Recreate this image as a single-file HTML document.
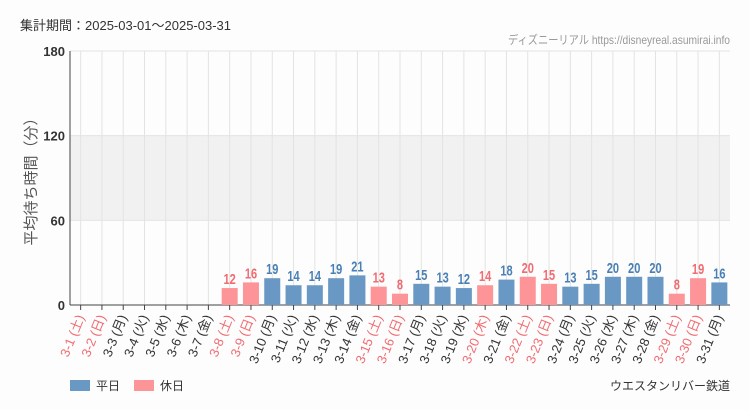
<!DOCTYPE html>
<html><head><meta charset="utf-8"><style>
body{margin:0;background:#fcfdfc;}
svg{display:block;font-family:"Liberation Sans","Noto Sans CJK JP",sans-serif;}
</style></head><body>
<svg id="chart" width="750" height="410">
<text x="20" y="30" font-size="13" fill="#333">集計期間：2025-03-01～2025-03-31</text>
<text x="730" y="44" font-size="12" fill="#999" text-anchor="end" textLength="222" lengthAdjust="spacingAndGlyphs">ディズニーリアル https://disneyreal.asumirai.info</text>
<rect x="70" y="136" width="660" height="84" fill="#f0f1f0"/>
<g id="grid"></g><g id="bars"></g><g id="xlabels"></g>
<text transform="translate(36,178) rotate(-90)" font-size="15" fill="#555" text-anchor="middle">平均待ち時間（分）</text>
<rect x="70" y="380" width="20" height="11" fill="#6a98c4"/>
<text x="96" y="390" font-size="12" fill="#333">平日</text>
<rect x="134" y="380" width="20" height="11" fill="#fd9497"/>
<text x="160" y="390" font-size="12" fill="#333">休日</text>
<text x="730" y="390" font-size="12" fill="#333" text-anchor="end">ウエスタンリバー鉄道</text>
</svg>
<script>
const days=["3-1","3-2","3-3","3-4","3-5","3-6","3-7","3-8","3-9","3-10","3-11","3-12","3-13","3-14","3-15","3-16","3-17","3-18","3-19","3-20","3-21","3-22","3-23","3-24","3-25","3-26","3-27","3-28","3-29","3-30","3-31"];
const weekdays=["土","日","月","火","水","木","金","土","日","月","火","水","木","金","土","日","月","火","水","木","金","土","日","月","火","水","木","金","土","日","月"];
const holidays=[1,1,0,0,0,0,0,1,1,0,0,0,0,0,1,1,0,0,0,1,0,1,1,0,0,0,0,0,1,1,0];
const values=[0,0,0,0,0,0,0,12,16,19,14,14,19,21,13,8,15,13,12,14,18,20,15,13,15,20,20,20,8,19,16];
const yTicks=[0,60,120,180];
const NS="http://www.w3.org/2000/svg";
const L=70,R=730,T=51,B=305,yMax=180;
const bw=(R-L)/days.length;
const xc=i=>L+bw*(i+0.5);
const y=v=>B-(B-T)*v/yMax;
function mk(tag,a,p){const e=document.createElementNS(NS,tag);for(const k in a)e.setAttribute(k,a[k]);p.appendChild(e);return e;}
const grid=document.getElementById('grid'),bars=document.getElementById('bars'),xl=document.getElementById('xlabels');
days.forEach((d,i)=>{const g=mk('line',{x1:xc(i),x2:xc(i),y1:T,y2:B,stroke:'#e2e4e2'},grid);

});
yTicks.forEach(t=>{const g=mk('line',{x1:L,x2:R,y1:y(t),y2:y(t),stroke:'#e2e4e2'},grid);


const tk=mk('text',{x:L-5,y:y(t)+5,'font-size':13,'font-weight':'bold',fill:'#333','text-anchor':'end'},grid);tk.textContent=t;

});
const ax=mk('line',{x1:L,x2:L,y1:T,y2:B,stroke:'#444'},grid);


const bx=mk('line',{x1:L,x2:R,y1:B,y2:B,stroke:'#444'},grid);


days.forEach((d,i)=>{const x=xc(i),v=values[i],col=holidays[i]?'#fd9497':'#6a98c4',tc=holidays[i]?'#f06c72':'#4a7fb5';
const tk=mk('line',{x1:x,x2:x,y1:B,y2:B+5,stroke:'#444'},grid);


if(v>0){const r=mk('rect',{x:x-8,y:y(v),width:16,height:B-y(v),fill:col},bars);


const t=mk('text',{transform:`translate(${x},${y(v)-4}) scale(0.85,1.1)`,'font-size':13,'font-weight':'bold',fill:tc,'text-anchor':'middle'},bars);t.textContent=v;

}
const lb=mk('text',{transform:`translate(${x+4},${B+12}) rotate(-68)`,'font-size':13,fill:holidays[i]?'#f06c72':'#333','text-anchor':'end'},xl);
lb.textContent=d+" ("+weekdays[i]+")";

});
</script>
</body></html>
